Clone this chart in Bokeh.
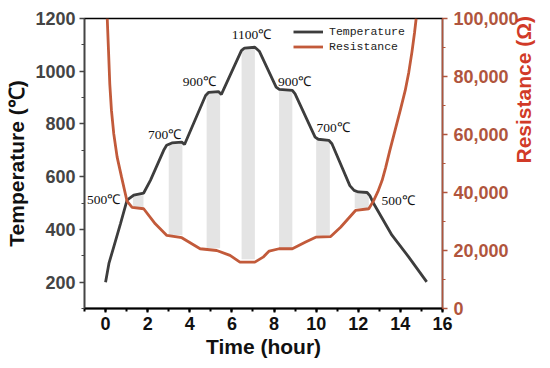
import math
from bokeh.plotting import figure
from bokeh.models import (LinearAxis, Range1d, SingleIntervalTicker, NumeralTickFormatter,
                          Legend, LegendItem, ColumnDataSource)
from bokeh.core.properties import value
from bokeh.embed import file_html
from bokeh.resources import INLINE

# ---- data ----
temp_t = [0.0, 0.16, 0.39, 0.71, 1.02, 1.34, 1.81, 2.13, 2.76, 2.9, 3.15, 3.62, 3.75,
          4.75, 4.9, 5.36, 5.5, 6.45, 6.6, 7.09, 7.3, 8.1, 8.25, 8.87, 9.0, 9.95, 10.1,
          10.6, 10.75, 11.6, 11.8, 12.0, 12.42, 12.55, 12.73, 13.6, 14.39, 15.25]
temp_v = [200, 271, 334, 422, 511, 530, 538, 586, 700, 719, 728, 731, 722,
          908, 920, 923, 912, 1078, 1088, 1091, 1076, 940, 931, 927, 914, 750, 742,
          738, 725, 566, 548, 542, 540, 528, 498, 378, 296, 201]

res_t = [0.08, 0.14, 0.2, 0.28, 0.39, 0.55, 0.76, 1.02, 1.26, 1.81, 2.36, 2.91, 3.62, 4.49,
         5.28, 5.91, 6.38, 7.09, 7.48, 7.77, 8.24, 8.87, 9.5, 9.98, 10.69, 11.16, 11.87,
         12.5, 12.73, 12.93, 13.13, 13.3, 13.5, 13.75, 14.0, 14.23, 14.4, 14.55, 14.67, 14.75]
res_v = [100000, 89000, 77500, 68300, 60200, 52200, 45300, 37000, 34900, 34400, 29200, 25200,
         24400, 20600, 20000, 18300, 16000, 16000, 17700, 19800, 20600, 20600, 22900,
         24600, 24800, 28000, 33800, 34400, 37200, 40300, 44100, 48600, 54500, 61500,
         68500, 75200, 81500, 88500, 95000, 100000]

bar_left = [1.3, 3.0, 4.8, 6.46, 8.24, 10.0, 11.83]
bar_right = [1.8, 3.65, 5.44, 7.09, 8.87, 10.65, 12.5]
bar_top = [530, 728, 923, 1090, 928, 740, 540]
bar_bottom = [484, 378, 329, 287, 329, 374, 480]

label_t = [-0.88, 2.01, 3.67, 5.99, 8.19, 10.02, 13.1]
label_T = [514, 761, 961, 1138, 961, 788, 511]
label_text = ["500℃", "700℃", "900℃", "1100℃", "900℃", "700℃", "500℃"]

x_start, x_end = -1, 16
t_start, t_end = 100, 1200
r_start, r_end = 0, 100000

TEMP_COLOR = "#3d3d3d"
RES_COLOR = "#c25a3a"
RES_AXIS = "#b0553d"
RES_TITLE = "#d13a28"

p = figure(width=549, height=360, output_backend="svg", toolbar_location=None,
           x_range=Range1d(x_start, x_end), y_range=Range1d(t_start, t_end),
           min_border_left=84, min_border_right=106, min_border_top=18, min_border_bottom=52)
p.extra_y_ranges = {"res": Range1d(r_start, r_end)}
p.xgrid.visible = False
p.ygrid.visible = False
p.outline_line_color = "black"
p.outline_line_width = 1.5
p.background_fill_color = "white"
p.border_fill_color = "white"

p.quad(left=bar_left, right=bar_right, top=bar_top, bottom=bar_bottom,
       fill_color="#e4e4e4", line_color=None)

r_temp = p.line(temp_t, temp_v, line_color=TEMP_COLOR, line_width=2.8)
r_res = p.line(res_t, res_v, line_color=RES_COLOR, line_width=2.8, y_range_name="res")

src = ColumnDataSource(dict(x=label_t, y=label_T, t=label_text))
p.text(x="x", y="y", text="t", source=src, text_font=value("Liberation Serif"),
       text_font_size="13.5px", text_align="left", text_baseline="middle", text_color="#111111")

bold = "bold"
# x axis
xa = p.xaxis[0]
xa.ticker = SingleIntervalTicker(interval=2, num_minor_ticks=2)
xa.axis_label = "Time (hour)"
xa.axis_label_text_font = "Liberation Sans"
xa.axis_label_text_font_style = bold
xa.axis_label_text_font_size = "21px"
xa.axis_label_text_color = "#111111"
xa.axis_label_standoff = 2
xa.major_label_text_font = "Liberation Sans"
xa.major_label_text_font_style = bold
xa.major_label_text_font_size = "18px"
xa.major_label_text_color = "#111111"
xa.major_label_standoff = 4
xa.axis_line_color = "black"
xa.axis_line_width = 2
xa.major_tick_in = 0
xa.major_tick_out = 4
xa.minor_tick_in = 0
xa.minor_tick_out = 3
xa.major_tick_line_width = 2
xa.minor_tick_line_width = 2

# left axis
ya = p.yaxis[0]
ya.ticker = SingleIntervalTicker(interval=200, num_minor_ticks=2)
ya.axis_label = "Temperature (℃)"
ya.axis_label_text_font = "Liberation Sans"
ya.axis_label_text_font_style = bold
ya.axis_label_text_font_size = "21px"
ya.axis_label_text_color = "#111111"
ya.axis_label_standoff = 4
ya.major_label_text_font = "Liberation Sans"
ya.major_label_text_font_style = bold
ya.major_label_text_font_size = "18px"
ya.major_label_text_color = "#444444"
ya.major_label_standoff = 4
ya.axis_line_color = "#444444"
ya.axis_line_width = 1.5
ya.major_tick_in = 0
ya.major_tick_out = 5
ya.minor_tick_in = 0
ya.minor_tick_out = 3
ya.major_tick_line_color = "#444444"
ya.minor_tick_line_color = "#444444"
ya.major_tick_line_width = 1.5

# right axis
ra = LinearAxis(y_range_name="res", ticker=SingleIntervalTicker(interval=20000, num_minor_ticks=2),
                formatter=NumeralTickFormatter(format="0,0"))
ra.axis_label = "Resistance (Ω)"
ra.axis_label_orientation = math.pi / 2
ra.axis_label_text_font = "Liberation Sans"
ra.axis_label_text_font_style = bold
ra.axis_label_text_font_size = "21px"
ra.axis_label_text_color = RES_TITLE
ra.axis_label_standoff = 2
ra.major_label_text_font = "Liberation Sans"
ra.major_label_text_font_style = bold
ra.major_label_text_font_size = "18px"
ra.major_label_text_color = RES_AXIS
ra.major_label_standoff = 6
ra.axis_line_color = RES_AXIS
ra.axis_line_width = 1.5
ra.major_tick_in = 0
ra.major_tick_out = 5
ra.minor_tick_in = 0
ra.minor_tick_out = 3
ra.major_tick_line_color = RES_AXIS
ra.minor_tick_line_color = RES_AXIS
ra.major_tick_line_width = 1.5
p.add_layout(ra, "right")

legend = Legend(items=[LegendItem(label="Temperature", renderers=[r_temp]),
                       LegendItem(label="Resistance", renderers=[r_res])],
                location=(209, 254), orientation="vertical")
legend.padding = 0
legend.margin = 0
legend.spacing = 0
legend.glyph_width = 30
legend.glyph_height = 15
legend.label_height = 15
legend.label_standoff = 6
legend.border_line_color = None
legend.background_fill_alpha = 0
legend.label_text_font = "Liberation Mono"
legend.label_text_font_size = "11.5px"
legend.label_text_color = "#222222"
p.add_layout(legend, "center")

open("out.html", "w").write(file_html(p, INLINE))
